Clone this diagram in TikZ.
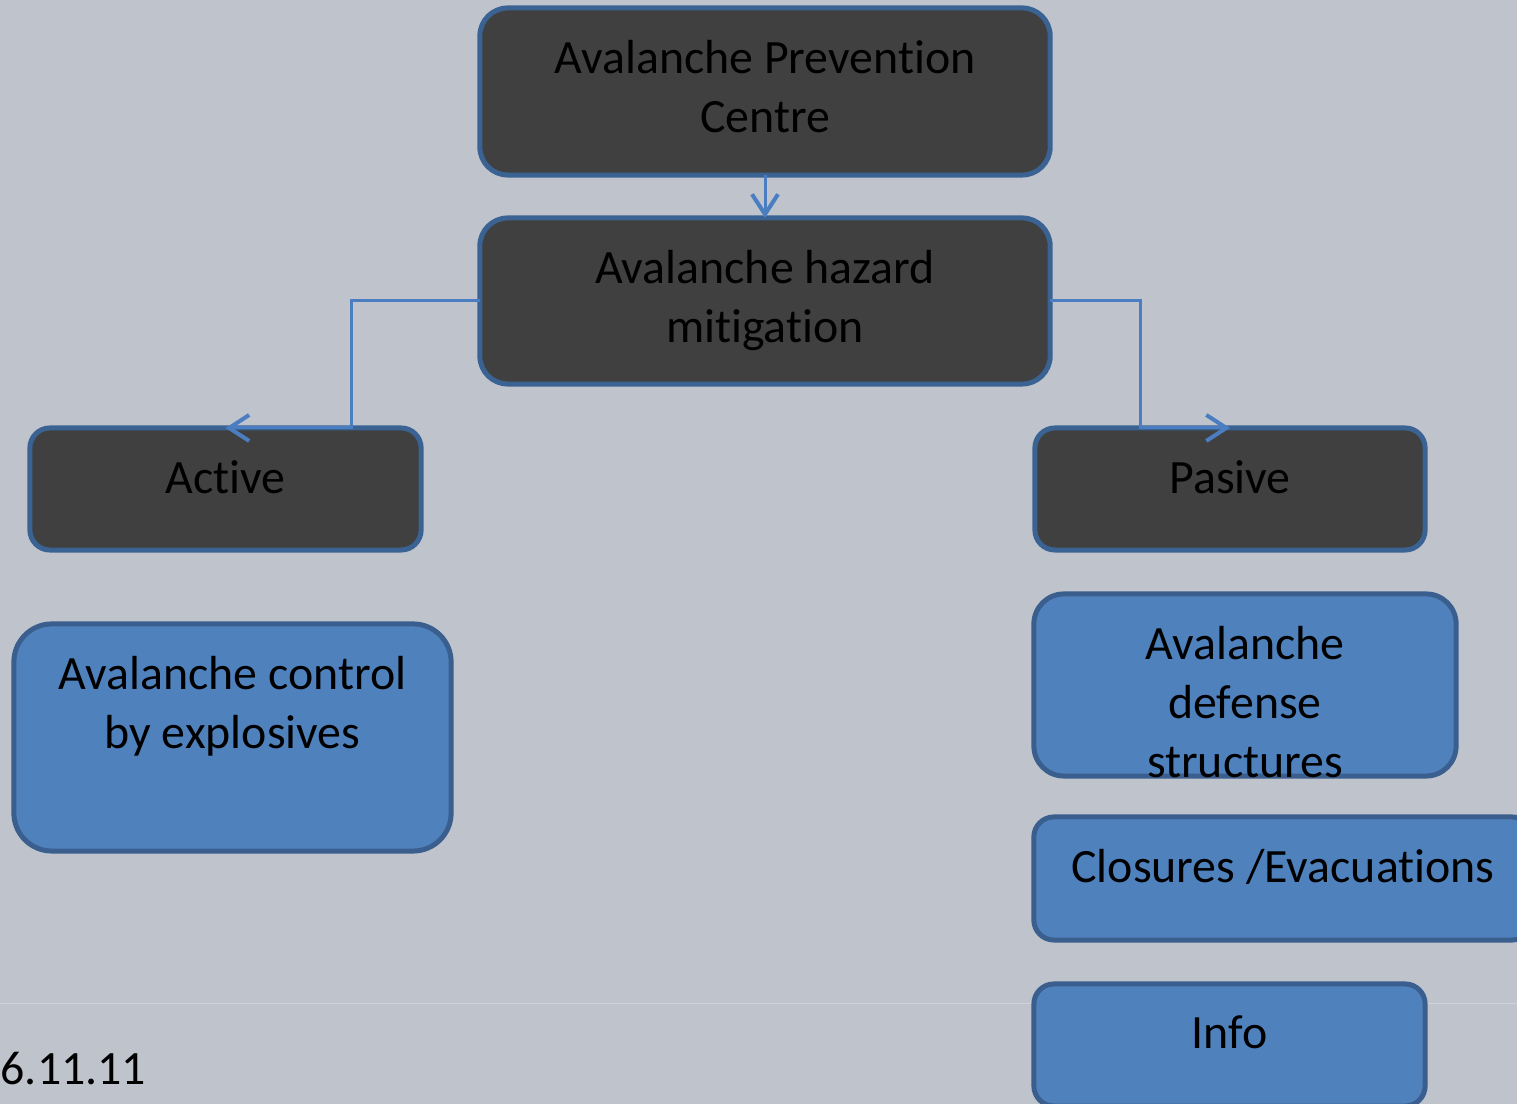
\documentclass[tikz,border=0pt]{standalone}
\usepackage{fontspec}
\setmainfont{Carlito}[Ligatures=NoCommon]
\usetikzlibrary{arrows.meta}
\definecolor{bg}{HTML}{BEC3CC}
\definecolor{darkfill}{HTML}{404040}
\definecolor{darkedge}{HTML}{3A6394}
\definecolor{bluefill}{HTML}{4F81BD}
\definecolor{blueedge}{HTML}{3A5F8E}
\definecolor{connc}{HTML}{4A7EC1}
\tikzset{
  darkbox/.style={draw=darkedge, fill=darkfill, line width=0.05cm, inner sep=0pt, outer sep=0pt},
  bluebox/.style={draw=blueedge, fill=bluefill, line width=0.05cm, inner sep=0pt, outer sep=0pt},
  boxtext/.style={anchor=north, inner sep=0pt, align=center, text=black,
    font=\fontsize{13.6pt}{16.8pt}\selectfont, yshift=-0.315cm},
  conn/.style={draw=connc, line width=0.03cm,
    -{Straight Barb[length=0.2cm, width=0.26cm, line width=0.04cm]}}
}
\begin{document}
\begin{tikzpicture}[x=0.01cm, y=-0.01cm]
\useasboundingbox (0,0) rectangle (1517,1104);
\fill[bg] (0,0) rectangle (1517,1104);
\clip (0,0) rectangle (1517,1104);
\draw[white!25!bg, line width=0.01cm] (0,1004) -- (1517,1004);

\node[darkbox, rounded corners=0.28cm, minimum width=5.7cm, minimum height=1.67cm] (apc) at (765,91.5) {};
\node[boxtext] (apct) at (apc.north) {Avalanche Prevention\\Centre};

\node[darkbox, rounded corners=0.28cm, minimum width=5.7cm, minimum height=1.66cm] (ham) at (765,301) {};
\node[boxtext] (hamt) at (ham.north) {Avalanche hazard\\mitigation};

\node[darkbox, rounded corners=0.2cm, minimum width=3.91cm, minimum height=1.22cm] (act) at (225.5,489) {};
\node[boxtext] (actt) at (act.north) {Active};

\node[darkbox, rounded corners=0.2cm, minimum width=3.9cm, minimum height=1.22cm] (pas) at (1230,489) {};
\node[boxtext] (past) at (pas.north) {Pasive};

\node[bluebox, rounded corners=0.38cm, minimum width=4.37cm, minimum height=2.27cm] (exp) at (232.5,737.5) {};
\node[boxtext] (expt) at (exp.north) {Avalanche control\\by explosives};

\node[bluebox, rounded corners=0.3cm, minimum width=4.22cm, minimum height=1.82cm] (def) at (1245,685) {};
\node[boxtext] (deft) at (def.north) {Avalanche\\defense\\structures};

\node[bluebox, rounded corners=0.2cm, minimum width=4.98cm, minimum height=1.23cm] (clo) at (1283,878.5) {};
\node[boxtext] (clot) at (clo.north) {Closures /Evacuations};

\node[bluebox, rounded corners=0.2cm, minimum width=3.91cm, minimum height=1.22cm] (inf) at (1229.5,1045) {};
\node[boxtext] (inft) at (inf.north) {Info};

\node[anchor=base west, inner sep=0pt, font=\fontsize{13.6pt}{16.8pt}\selectfont] (date) at (0,1085) {6.11.11};

\draw[conn] (apc.south) -- (ham.north);
\draw[conn] (ham.west) -- ++(-128,0) |- (act.north);
\draw[conn] (ham.east) -- ++(90,0) |- (pas.north);
\end{tikzpicture}
\end{document}
